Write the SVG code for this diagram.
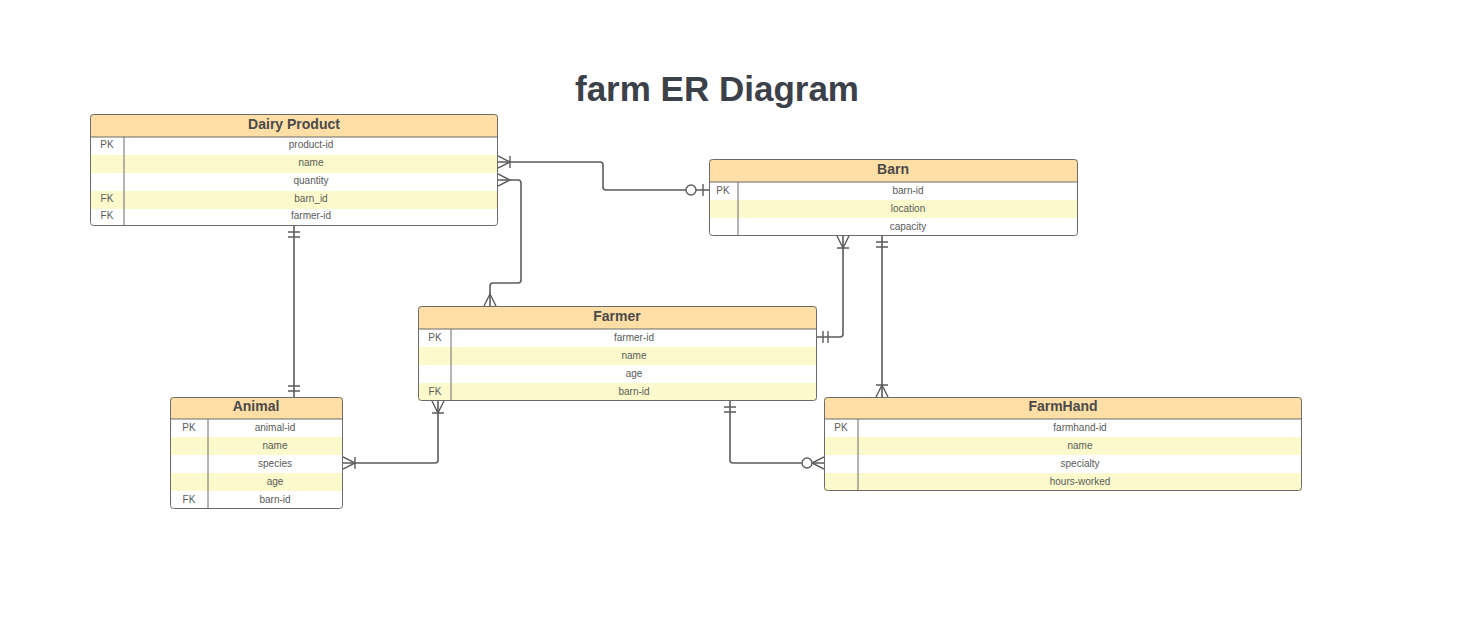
<svg xmlns="http://www.w3.org/2000/svg" width="1470" height="637" viewBox="0 0 1470 637">
<style>
.bg{fill:#ffffff}
.hd{fill:#ffdfa6}
.alt{fill:#fcfacc}
.frame{fill:none;stroke:#6b6b6b;stroke-width:1}
.sep{stroke:#6b6b6b;stroke-width:1}
.title{font-family:"Liberation Sans",Arial,sans-serif;font-size:35px;font-weight:bold;fill:#3b4049;text-anchor:middle}
.hdt{font-family:"Liberation Sans",Arial,sans-serif;font-size:14px;font-weight:bold;fill:#4a4a4a;text-anchor:middle}
.rt{font-family:"Liberation Sans",Arial,sans-serif;font-size:10px;fill:#5a5a5a;text-anchor:middle}
.conn{fill:none;stroke:#5c5c5c;stroke-width:1.6}
.mk{fill:none;stroke:#5c5c5c;stroke-width:1.4}
.mkc{fill:#ffffff;stroke:#5c5c5c;stroke-width:1.4}
</style>
<defs>
<marker id="many" viewBox="0 0 30 20" markerWidth="30" markerHeight="20" refX="30" refY="10" orient="auto-start-reverse" markerUnits="userSpaceOnUse">
<path class="mk" d="M30,4 L18,10 L30,16"/>
</marker>
<marker id="oneMany" viewBox="0 0 30 20" markerWidth="30" markerHeight="20" refX="30" refY="10" orient="auto-start-reverse" markerUnits="userSpaceOnUse">
<path class="mk" d="M30,4 L18,10 L30,16 M18,4 V16"/>
</marker>
<marker id="oneOnly" viewBox="0 0 30 20" markerWidth="30" markerHeight="20" refX="30" refY="10" orient="auto-start-reverse" markerUnits="userSpaceOnUse">
<path class="mk" d="M19,4 V16 M24,4 V16"/>
</marker>
<marker id="zeroOne" viewBox="0 0 30 20" markerWidth="30" markerHeight="20" refX="30" refY="10" orient="auto-start-reverse" markerUnits="userSpaceOnUse">
<path class="mk" d="M24,4 V16"/>
<circle class="mkc" cx="12" cy="10" r="5"/>
</marker>
<marker id="zeroMany" viewBox="0 0 30 20" markerWidth="30" markerHeight="20" refX="30" refY="10" orient="auto-start-reverse" markerUnits="userSpaceOnUse">
<path class="mk" d="M30,4 L18,10 L30,16"/>
<circle class="mkc" cx="13" cy="10" r="5"/>
</marker>
</defs>
<rect x="0" y="0" width="1470" height="637" fill="#ffffff"/>
<text class="title" x="717" y="101">farm ER Diagram</text>

<g id="connectors">
<path class="conn" d="M498,162 H600 Q603,162 603,165 V187 Q603,190 606,190 H709" marker-start="url(#oneMany)" marker-end="url(#zeroOne)"/>
<path class="conn" d="M498,180 H518 Q521,180 521,183 V280 Q521,283 518,283 H493 Q490,283 490,286 V306" marker-start="url(#many)" marker-end="url(#many)"/>
<path class="conn" d="M294,226 V397" marker-start="url(#oneOnly)" marker-end="url(#oneOnly)"/>
<path class="conn" d="M843,236 V334 Q843,337 840,337 H817" marker-start="url(#oneMany)" marker-end="url(#oneOnly)"/>
<path class="conn" d="M882,236 V397" marker-start="url(#oneOnly)" marker-end="url(#oneMany)"/>
<path class="conn" d="M438,401 V460 Q438,463 435,463 H343" marker-start="url(#oneMany)" marker-end="url(#oneMany)"/>
<path class="conn" d="M730,401 V460 Q730,463 733,463 H824" marker-start="url(#oneOnly)" marker-end="url(#zeroMany)"/>
</g>

<g id="dairy-product">
<rect class="bg" x="90" y="114" width="408" height="112" rx="3"/>
<path class="hd" d="M90,137 V117 Q90,114 93,114 H495 Q498,114 498,117 V137 Z"/>
<rect class="alt" x="90" y="155" width="408" height="18"/>
<rect class="alt" x="90" y="191" width="408" height="18"/>
<line class="sep" x1="90" y1="137" x2="498" y2="137"/>
<line class="sep" x1="124" y1="137" x2="124" y2="226"/>
<rect class="frame" x="90.5" y="114.5" width="407" height="111" rx="3"/>
<text class="hdt" x="294" y="129">Dairy Product</text>
<text class="rt" x="107" y="148">PK</text>
<text class="rt" x="311" y="148">product-id</text>
<text class="rt" x="311" y="166">name</text>
<text class="rt" x="311" y="184">quantity</text>
<text class="rt" x="107" y="202">FK</text>
<text class="rt" x="311" y="202">barn_id</text>
<text class="rt" x="107" y="219">FK</text>
<text class="rt" x="311" y="219">farmer-id</text>
</g>

<g id="barn">
<rect class="bg" x="709" y="159" width="369" height="77" rx="3"/>
<path class="hd" d="M709,182 V162 Q709,159 712,159 H1075 Q1078,159 1078,162 V182 Z"/>
<rect class="alt" x="709" y="200" width="369" height="18"/>
<line class="sep" x1="709" y1="182" x2="1078" y2="182"/>
<line class="sep" x1="738" y1="182" x2="738" y2="236"/>
<rect class="frame" x="709.5" y="159.5" width="368" height="76" rx="3"/>
<text class="hdt" x="893" y="174">Barn</text>
<text class="rt" x="723" y="194">PK</text>
<text class="rt" x="908" y="194">barn-id</text>
<text class="rt" x="908" y="212">location</text>
<text class="rt" x="908" y="230">capacity</text>
</g>

<g id="farmer">
<rect class="bg" x="418" y="306" width="399" height="95" rx="3"/>
<path class="hd" d="M418,329 V309 Q418,306 421,306 H814 Q817,306 817,309 V329 Z"/>
<rect class="alt" x="418" y="347" width="399" height="18"/>
<rect class="alt" x="418" y="383" width="399" height="18"/>
<line class="sep" x1="418" y1="329" x2="817" y2="329"/>
<line class="sep" x1="451" y1="329" x2="451" y2="401"/>
<rect class="frame" x="418.5" y="306.5" width="398" height="94" rx="3"/>
<text class="hdt" x="617" y="321">Farmer</text>
<text class="rt" x="435" y="341">PK</text>
<text class="rt" x="634" y="341">farmer-id</text>
<text class="rt" x="634" y="359">name</text>
<text class="rt" x="634" y="377">age</text>
<text class="rt" x="435" y="395">FK</text>
<text class="rt" x="634" y="395">barn-id</text>
</g>

<g id="animal">
<rect class="bg" x="170" y="397" width="173" height="112" rx="3"/>
<path class="hd" d="M170,419 V400 Q170,397 173,397 H340 Q343,397 343,400 V419 Z"/>
<rect class="alt" x="170" y="437" width="173" height="18"/>
<rect class="alt" x="170" y="473" width="173" height="18"/>
<line class="sep" x1="170" y1="419" x2="343" y2="419"/>
<line class="sep" x1="208" y1="419" x2="208" y2="509"/>
<rect class="frame" x="170.5" y="397.5" width="172" height="111" rx="3"/>
<text class="hdt" x="256" y="411">Animal</text>
<text class="rt" x="189" y="431">PK</text>
<text class="rt" x="275" y="431">animal-id</text>
<text class="rt" x="275" y="449">name</text>
<text class="rt" x="275" y="467">species</text>
<text class="rt" x="275" y="485">age</text>
<text class="rt" x="189" y="503">FK</text>
<text class="rt" x="275" y="503">barn-id</text>
</g>

<g id="farmhand">
<rect class="bg" x="824" y="397" width="478" height="94" rx="3"/>
<path class="hd" d="M824,419 V400 Q824,397 827,397 H1299 Q1302,397 1302,400 V419 Z"/>
<rect class="alt" x="824" y="437" width="478" height="18"/>
<rect class="alt" x="824" y="473" width="478" height="18"/>
<line class="sep" x1="824" y1="419" x2="1302" y2="419"/>
<line class="sep" x1="858" y1="419" x2="858" y2="491"/>
<rect class="frame" x="824.5" y="397.5" width="477" height="93" rx="3"/>
<text class="hdt" x="1063" y="411">FarmHand</text>
<text class="rt" x="841" y="431">PK</text>
<text class="rt" x="1080" y="431">farmhand-id</text>
<text class="rt" x="1080" y="449">name</text>
<text class="rt" x="1080" y="467">specialty</text>
<text class="rt" x="1080" y="485">hours-worked</text>
</g>
</svg>
